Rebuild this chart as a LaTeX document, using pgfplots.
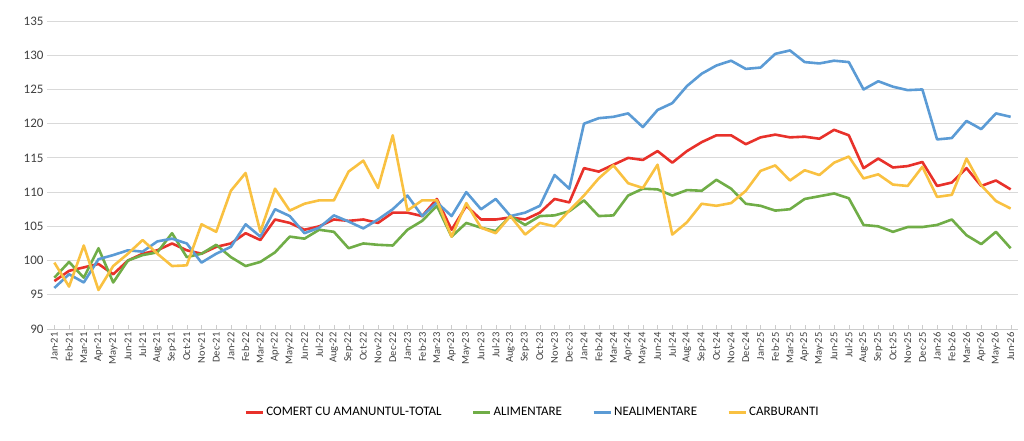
\documentclass[border=0pt]{standalone}
\usepackage{pgfplots}
\pgfplotsset{compat=1.18}
\usepackage{fontspec}
\setmainfont{Carlito}
\definecolor{cred}{HTML}{E8312A}
\definecolor{cgreen}{HTML}{70AD47}
\definecolor{cblue}{HTML}{5B9BD5}
\definecolor{cyel}{HTML}{F9C141}
\begin{document}
\begin{tikzpicture}
\path[use as bounding box] (-47pt,-111pt) rectangle (977pt,329pt);
\begin{axis}[
  scale only axis, width=971pt, height=308pt,
  at={(0,0)}, anchor=south west,
  xmin=-0.5, xmax=65.5, ymin=90, ymax=135,
  ytick={90,95,...,135},
  xtick={0,...,65},
  xticklabels={Jan-21,Feb-21,Mar-21,Apr-21,May-21,Jun-21,Jul-21,Aug-21,Sep-21,Oct-21,Nov-21,Dec-21,
  Jan-22,Feb-22,Mar-22,Apr-22,May-22,Jun-22,Jul-22,Aug-22,Sep-22,Oct-22,Nov-22,Dec-22,
  Jan-23,Feb-23,Mar-23,Apr-23,May-23,Jun-23,Jul-23,Aug-23,Sep-23,Oct-23,Nov-23,Dec-23,
  Jan-24,Feb-24,Mar-24,Apr-24,May-24,Jun-24,Jul-24,Aug-24,Sep-24,Oct-24,Nov-24,Dec-24,
  Jan-25,Feb-25,Mar-25,Apr-25,May-25,Jun-25,Jul-25,Aug-25,Sep-25,Oct-25,Nov-25,Dec-25,
  Jan-26,Feb-26,Mar-26,Apr-26,May-26,Jun-26},
  xticklabel style={rotate=90,anchor=east,font=\fontsize{10.5}{11}\selectfont,text=black!75},
  yticklabel style={font=\fontsize{13}{14}\selectfont,text=black!75},
  /pgf/number format/assume math mode=true,
  ymajorgrids, grid style={gray!30,line width=0.8pt},
  axis x line*=bottom, axis y line*=left,
  y axis line style={draw=none},
  x axis line style={gray!40,-}, xtick style={gray!40}, ytick style={draw=none},
  major tick length=4pt,
  legend style={at={(0.5,-0.27)},anchor=center,draw=none,legend columns=4,
    font=\fontsize{13}{14}\selectfont,/tikz/every even column/.append style={column sep=28pt}},
  legend image post style={line width=3pt},
  every axis plot/.append style={line width=2.6pt,line join=round,no marks},
]
\addplot[cred] coordinates {(0,97)(1,98.5)(2,99)(3,99.5)(4,98)(5,100)(6,101)(7,101.5)(8,102.5)(9,101.5)(10,101)(11,102)
(12,102.5)(13,104)(14,103)(15,106)(16,105.5)(17,104.5)(18,105)(19,106)(20,105.8)(21,106)(22,105.5)(23,107)
(24,107)(25,106.5)(26,109)(27,104.5)(28,108)(29,106)(30,106)(31,106.3)(32,106)(33,107)(34,109)(35,108.5)
(36,113.5)(37,113)(38,114)(39,115)(40,114.7)(41,116)(42,114.3)(43,116)(44,117.3)(45,118.3)(46,118.3)(47,117)
(48,118)(49,118.4)(50,118)(51,118.1)(52,117.8)(53,119.1)(54,118.3)(55,113.5)(56,114.9)(57,113.6)(58,113.8)(59,114.4)
(60,110.9)(61,111.4)(62,113.5)(63,110.9)(64,111.7)(65,110.4)};
\addlegendentry{COMERT CU AMANUNTUL-TOTAL}
\addplot[cgreen] coordinates {(0,97.5)(1,99.8)(2,97.5)(3,101.8)(4,96.8)(5,100)(6,100.8)(7,101.2)(8,104)(9,100.5)(10,101)(11,102.3)
(12,100.5)(13,99.2)(14,99.8)(15,101.2)(16,103.5)(17,103.2)(18,104.5)(19,104.2)(20,101.8)(21,102.5)(22,102.3)(23,102.2)
(24,104.5)(25,105.8)(26,108)(27,103.5)(28,105.5)(29,104.8)(30,104.3)(31,106.5)(32,105.2)(33,106.5)(34,106.6)(35,107.2)
(36,108.8)(37,106.5)(38,106.6)(39,109.5)(40,110.5)(41,110.4)(42,109.5)(43,110.3)(44,110.2)(45,111.8)(46,110.5)(47,108.3)
(48,108)(49,107.3)(50,107.5)(51,109)(52,109.4)(53,109.8)(54,109.1)(55,105.2)(56,105)(57,104.2)(58,104.9)(59,104.9)
(60,105.2)(61,106)(62,103.7)(63,102.4)(64,104.2)(65,101.8)};
\addlegendentry{ALIMENTARE}
\addplot[cblue] coordinates {(0,96)(1,98)(2,96.8)(3,100.2)(4,100.8)(5,101.5)(6,101.3)(7,102.8)(8,103.2)(9,102.5)(10,99.7)(11,101)
(12,102)(13,105.3)(14,103.5)(15,107.5)(16,106.5)(17,104)(18,104.8)(19,106.6)(20,105.7)(21,104.7)(22,106)(23,107.5)
(24,109.5)(25,106.5)(26,108.5)(27,106.5)(28,110)(29,107.5)(30,109)(31,106.5)(32,107)(33,108)(34,112.5)(35,110.5)
(36,120)(37,120.8)(38,121)(39,121.5)(40,119.5)(41,122)(42,123)(43,125.5)(44,127.3)(45,128.5)(46,129.2)(47,128)
(48,128.2)(49,130.2)(50,130.7)(51,129)(52,128.8)(53,129.2)(54,129)(55,125)(56,126.2)(57,125.4)(58,124.9)(59,125)
(60,117.7)(61,117.9)(62,120.4)(63,119.2)(64,121.5)(65,121)};
\addlegendentry{NEALIMENTARE}
\addplot[cyel] coordinates {(0,99.7)(1,96.2)(2,102.2)(3,95.7)(4,99.2)(5,101)(6,103)(7,101)(8,99.2)(9,99.3)(10,105.3)(11,104.2)
(12,110.2)(13,112.8)(14,104.2)(15,110.5)(16,107.3)(17,108.3)(18,108.8)(19,108.8)(20,113)(21,114.6)(22,110.6)(23,118.3)
(24,107.3)(25,108.8)(26,108.8)(27,103.5)(28,108.4)(29,104.8)(30,104)(31,106.5)(32,103.8)(33,105.5)(34,105)(35,107.3)
(36,109.5)(37,112)(38,113.9)(39,111.3)(40,110.6)(41,114)(42,103.8)(43,105.6)(44,108.3)(45,108)(46,108.4)(47,110.2)
(48,113.1)(49,113.9)(50,111.7)(51,113.2)(52,112.5)(53,114.3)(54,115.2)(55,112)(56,112.6)(57,111.1)(58,110.9)(59,113.7)
(60,109.3)(61,109.6)(62,114.9)(63,111)(64,108.7)(65,107.6)};
\addlegendentry{CARBURANTI}
\end{axis}
\end{tikzpicture}
\end{document}
